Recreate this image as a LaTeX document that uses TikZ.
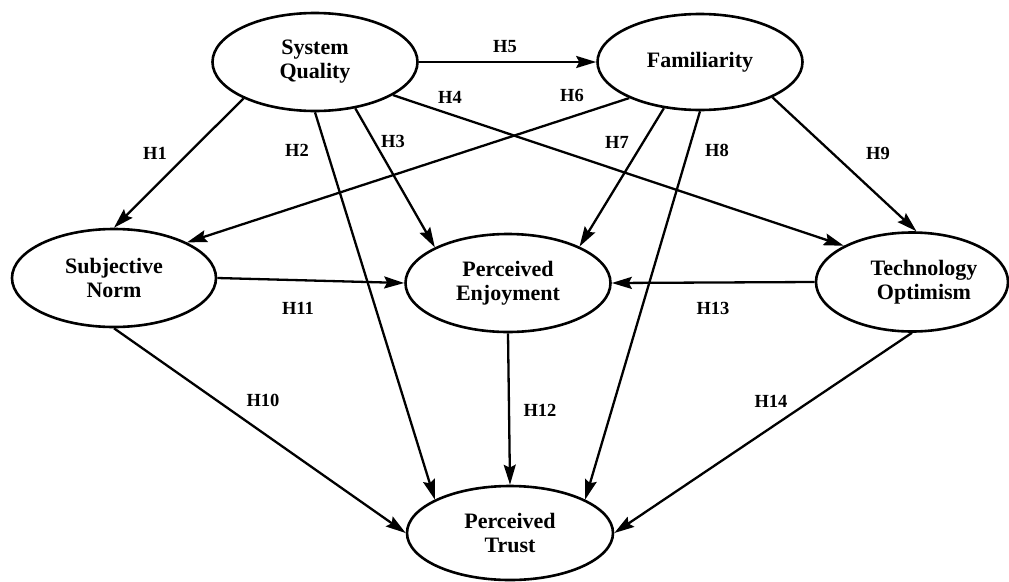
\documentclass[tikz,border=0pt]{standalone}
\usepackage{fontspec}
\setmainfont{Liberation Serif}[BoldFont={Liberation Serif Bold}]
\usetikzlibrary{shapes.geometric,arrows.meta}
\begin{document}
\begin{tikzpicture}[x=1pt,y=-1pt,
  var/.style={ellipse,draw,line width=2.6pt,inner sep=0pt,align=center,
    font=\fontsize{22}{24}\selectfont\bfseries},
  hyp/.style={line width=2.3pt,-{Stealth[length=20pt,width=12pt,inset=3pt]}},
  hlab/.style={font=\fontsize{18.5}{20}\selectfont\bfseries}]
\useasboundingbox (0,0) rectangle (1009,581);
\node[var,minimum width=205pt,minimum height=98pt] (SQ) at (315,62) {System\\Quality};
\node[var,minimum width=205pt,minimum height=96pt] (FA) at (700,62) {Familiarity};
\node[var,minimum width=204pt,minimum height=98pt] (SN) at (114,278) {Subjective\\Norm};
\node[var,minimum width=205pt,minimum height=98pt] (PE) at (508,283) {Perceived\\Enjoyment};
\node[var,minimum width=192pt,minimum height=99pt] (TO) at (912,282) {\hspace*{24pt}Technology\\\hspace*{24pt}Optimism};
\node[var,minimum width=206pt,minimum height=94pt] (PT) at (510,533) {Perceived\\Trust};

\draw[hyp] (SQ.-153) -- (SN.north);
\draw[hyp] (SQ.south) -- (PT.156);
\draw[hyp] (SQ.-49) -- (PE.154);
\draw[hyp] (SQ.-23) -- (TO.152);
\draw[hyp] (SQ.east) -- (FA.west);
\draw[hyp] (FA.-153) -- (SN.26);
\draw[hyp] (FA.-128) -- (PE.27);
\draw[hyp] (FA.south) -- (PT.24);
\draw[hyp] (FA.-26) -- (TO.85);
\draw[hyp] (SN.south) -- (PT.west);
\draw[hyp] (SN.east) -- (PE.west);
\draw[hyp] (PE.south) -- (PT.north);
\draw[hyp] (TO.west) -- (PE.east);
\draw[hyp] (TO.south) -- (PT.east);

\node[hlab] (l1) at (155,153) {H1};
\node[hlab] (l2) at (297,150) {H2};
\node[hlab] (l3) at (393,141) {H3};
\node[hlab] (l4) at (450,97) {H4};
\node[hlab] (l5) at (505,47) {H5};
\node[hlab] (l6) at (572,95) {H6};
\node[hlab] (l7) at (617,142) {H7};
\node[hlab] (l8) at (717,150) {H8};
\node[hlab] (l9) at (878,153) {H9};
\node[hlab] (l10) at (263,400) {H10};
\node[hlab] (l11) at (298,308) {H11};
\node[hlab] (l12) at (540,410) {H12};
\node[hlab] (l13) at (713,308) {H13};
\node[hlab] (l14) at (771,401) {H14};
\end{tikzpicture}
\end{document}
